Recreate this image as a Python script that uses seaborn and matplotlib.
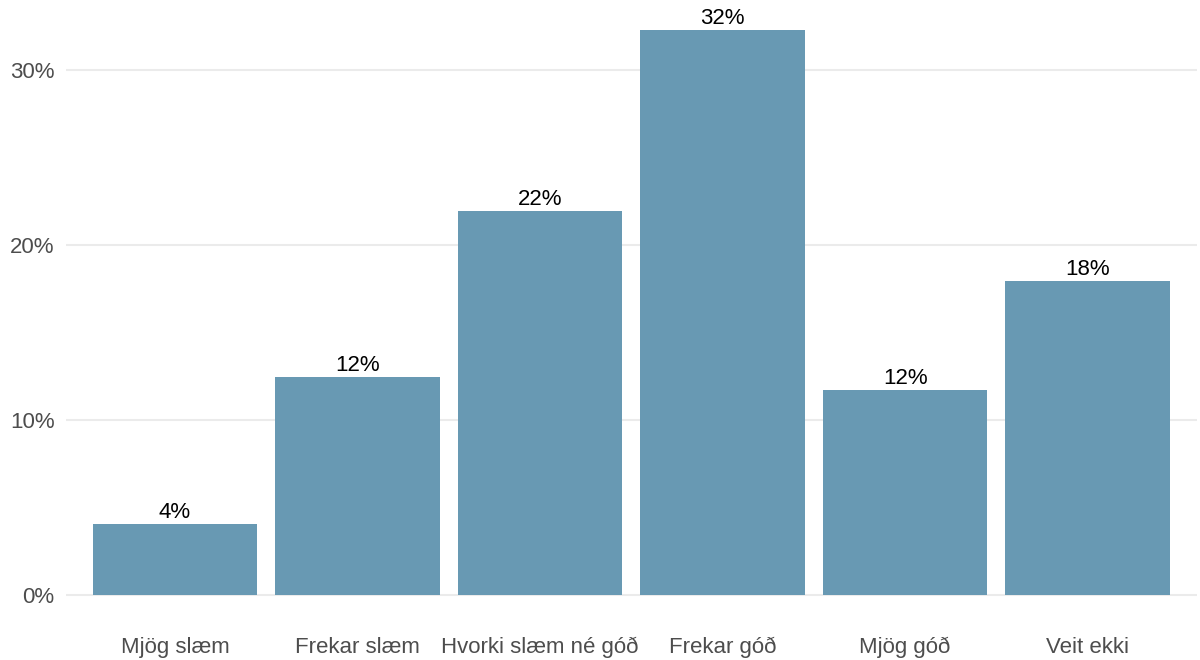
import numpy as np
import pandas as pd
import matplotlib.pyplot as plt
import seaborn as sns
from matplotlib.ticker import FuncFormatter

# Gögn lesin af myndinni
flokkar = ["Mjög slæm", "Frekar slæm", "Hvorki slæm né góð", "Frekar góð", "Mjög góð", "Veit ekki"]
hlutfall = [4.06, 12.45, 21.95, 32.3, 11.7, 17.95]

df = pd.DataFrame({"flokkur": flokkar, "hlutfall": hlutfall})

sns.set_style("white")
plt.rcParams["font.family"] = ["Liberation Sans", "DejaVu Sans"]

fig = plt.figure(figsize=(12, 6.6), dpi=100)
ax = fig.add_axes([0.0546, 0.056, 0.943, 0.941])

sns.barplot(data=df, x="flokkur", y="hlutfall", color="#6899B3", saturation=1,
            width=0.9, linewidth=0, ax=ax, zorder=2)

ax.bar_label(ax.containers[0], labels=[f"{round(v)}%" for v in hlutfall],
             padding=1, fontsize=16, color="black")

ax.set_xlim(-0.6, len(flokkar) - 0.4)
ax.set_ylim(-1.6, 33.9)
ax.set_yticks([0, 10, 20, 30])
ax.yaxis.set_major_formatter(FuncFormatter(lambda v, p: f"{v:.0f}%"))
ax.grid(axis="y", color="#EBEBEB", linewidth=1.5, zorder=0)
ax.grid(axis="x", visible=False)
ax.tick_params(axis="both", length=0, labelsize=16, labelcolor="#4D4D4D", pad=8)
ax.tick_params(axis="x", pad=10)
ax.set_xlabel("")
ax.set_ylabel("")
sns.despine(left=True, bottom=True)

fig.savefig("out.png", dpi=100)
